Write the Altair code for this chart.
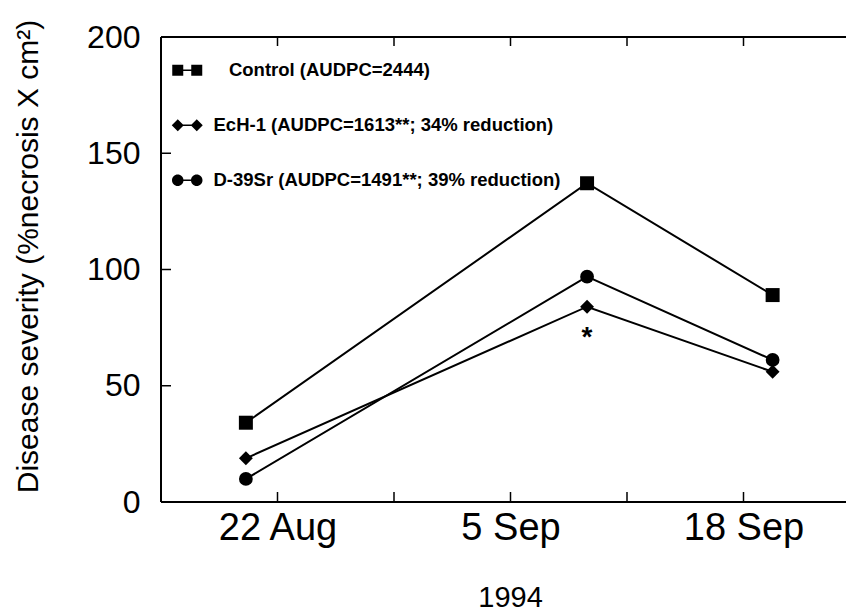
import altair as alt
import pandas as pd

# ---- data ----
# x: days after 22 Aug 1994 (axis ticks every 7 days)
days = [-1.9, 18.6, 29.75]
series_names = ["Control", "EcH-1", "D-39Sr"]
control = [34.1, 137.1, 89.0]
ech1 = [18.8, 84.0, 56.0]
d39sr = [9.9, 96.9, 61.1]
legend_labels = [
    "\u200b\u00a0\u00a0\u00a0Control (AUDPC=2444)",
    "EcH-1 (AUDPC=1613**; 34% reduction)",
    "D-39Sr (AUDPC=1491**; 39% reduction)",
]
x_tick_days = [0, 7, 14, 21, 28]
x_label_days = [0, 14, 28]
x_tick_labels = ["22 Aug", "5 Sep", "18 Sep"]
y_ticks = [0, 50, 100, 150, 200]
y_minor = [50, 100, 150]
star_day = [18.6]
star_value = [84.0]
star_text = ["*"]

# ---- tables ----
rows = []
for name, vals in zip(series_names, [control, ech1, d39sr]):
    for d, v in zip(days, vals):
        rows.append({"series": name, "day": d, "value": v})
df = pd.DataFrame(rows)
legend_df = pd.DataFrame({"label": legend_labels})
star_df = pd.DataFrame({"day": star_day, "value": star_value, "t": star_text})

W, H = 685, 465
PX_PER_DAY = 699 / 42
FONT = "Liberation Sans"


# legend symbols: two markers joined by a line (unit coordinates)
def f(v):
    return f"{round(v, 3)}"


def square(cx, h=1.1):
    return f"M{f(cx-h)},{f(-h)}L{f(cx+h)},{f(-h)}L{f(cx+h)},{f(h)}L{f(cx-h)},{f(h)}Z"


def diamond(cx, h=1.2):
    return f"M{f(cx-h)},0L{f(cx)},{f(-h)}L{f(cx+h)},0L{f(cx)},{f(h)}Z"


def circle(cx, r=1.15):
    k = 0.5523 * r
    return (f"M{f(cx+r)},0C{f(cx+r)},{f(k)} {f(cx+k)},{f(r)} {f(cx)},{f(r)}"
            f"C{f(cx-k)},{f(r)} {f(cx-r)},{f(k)} {f(cx-r)},0"
            f"C{f(cx-r)},{f(-k)} {f(cx-k)},{f(-r)} {f(cx)},{f(-r)}"
            f"C{f(cx+k)},{f(-r)} {f(cx+r)},{f(-k)} {f(cx+r)},0Z")


def pair(fn, c=1.9, t=0.16):
    return (fn(-c) + fn(c)
            + f"M{f(-c)},{f(-t)}L{f(c)},{f(-t)}L{f(c)},{f(t)}L{f(-c)},{f(t)}Z")


legend_paths = [pair(square), pair(diamond), pair(circle)]

xscale = alt.Scale(domain=[-7, -7 + W / PX_PER_DAY], nice=False, zero=False)
yscale = alt.Scale(domain=[0, 200], nice=False)

label_expr = " : ".join(
    [f"datum.value == {d} ? '{l}'" for d, l in zip(x_label_days, x_tick_labels)]
) + " : ''"

xaxis = alt.Axis(
    values=x_label_days, labelExpr=label_expr, ticks=False, domain=False, grid=False,
    labelFont=FONT, labelFontSize=38, labelColor="black", labelPadding=7,
    labelFlush=False, labelOverlap=False,
    title="1994", titleFont=FONT, titleFontSize=29, titleFontWeight="normal",
    titleColor="black", titleX=349, titleY=104, titleBaseline="alphabetic",
    titleAnchor="middle",
)
yaxis = alt.Axis(
    values=y_ticks, ticks=False, domain=False, grid=False,
    labelFont=FONT, labelFontSize=32, labelColor="black", labelPadding=21,
    labelFlush=False,
    title="Disease severity (%necrosis X cm²)", titleFont=FONT, titleFontSize=30,
    titleFontWeight="normal", titleColor="black", titleAngle=270, titleAlign="center",
    titleBaseline="alphabetic", titleX=-124, titleY=219,
)

lines = alt.Chart(df).mark_line(color="black", strokeWidth=2).encode(
    x=alt.X("day:Q", scale=xscale, axis=xaxis),
    y=alt.Y("value:Q", scale=yscale, axis=yaxis),
    detail="series:N",
    order="day:Q",
)

points = alt.Chart(df).mark_point(filled=True, color="black", opacity=1).encode(
    x=alt.X("day:Q"),
    y=alt.Y("value:Q"),
    shape=alt.Shape("series:N", scale=alt.Scale(domain=series_names,
                                                range=["square", "diamond", "circle"]),
                    legend=None),
    size=alt.Size("series:N", scale=alt.Scale(domain=series_names, range=[196, 190, 150]),
                  legend=None),
)

legend_layer = alt.Chart(legend_df).transform_filter("false").mark_point(
    filled=True, color="black", opacity=1
).encode(
    shape=alt.Shape(
        "label:N",
        scale=alt.Scale(domain=legend_labels, range=legend_paths),
        legend=alt.Legend(
            orient="none", legendX=17, legendY=24, title=None, padding=0,
            labelFont=FONT, labelFontWeight="bold", labelFontSize=18.5, labelColor="black",
            labelOffset=17, labelLimit=1000, rowPadding=36, symbolSize=100,
            symbolFillColor="black", symbolStrokeColor="black", symbolStrokeWidth=0.5,
            symbolOpacity=1,
        ),
    )
)

star = alt.Chart(star_df).mark_text(
    font=FONT, fontSize=28, fontWeight="bold", color="black", dy=39,
    align="center", baseline="alphabetic",
).encode(x="day:Q", y="value:Q", text="t:N")

ydf = pd.DataFrame({"value": y_minor})
xdf = pd.DataFrame({"day": x_tick_days})
left_ticks = alt.Chart(ydf).mark_rule(color="black", strokeWidth=1.5).encode(
    y="value:Q", x=alt.value(0), x2=alt.value(10))
bottom_ticks = alt.Chart(xdf).mark_rule(color="black", strokeWidth=1.5).encode(
    x="day:Q", y=alt.value(H), y2=alt.value(H - 10))
top_ticks = alt.Chart(xdf).mark_rule(color="black", strokeWidth=1.5).encode(
    x="day:Q", y=alt.value(0), y2=alt.value(9))

# frame: left, top and bottom sides (the right side lies beyond the picture)
frame_left = alt.Chart(xdf).mark_rule(color="black", strokeWidth=2).encode(
    x=alt.value(0), y=alt.value(0), y2=alt.value(H))
frame_top = alt.Chart(xdf).mark_rule(color="black", strokeWidth=2).encode(
    x=alt.value(0), x2=alt.value(W), y=alt.value(0))
frame_bottom = alt.Chart(xdf).mark_rule(color="black", strokeWidth=2).encode(
    x=alt.value(0), x2=alt.value(W), y=alt.value(H))

chart = alt.layer(
    lines, points, star, left_ticks, bottom_ticks, top_ticks,
    frame_left, frame_top, frame_bottom, legend_layer
).resolve_scale(shape="independent", size="independent").properties(
    width=W, height=H,
    autosize=alt.AutoSizeParams(type="none"),
    padding={"left": 153, "top": 29, "right": 0, "bottom": 109},
    background="white",
).configure_view(strokeWidth=0)

chart.save("out.html", embed_options={"renderer": "svg", "actions": False})
